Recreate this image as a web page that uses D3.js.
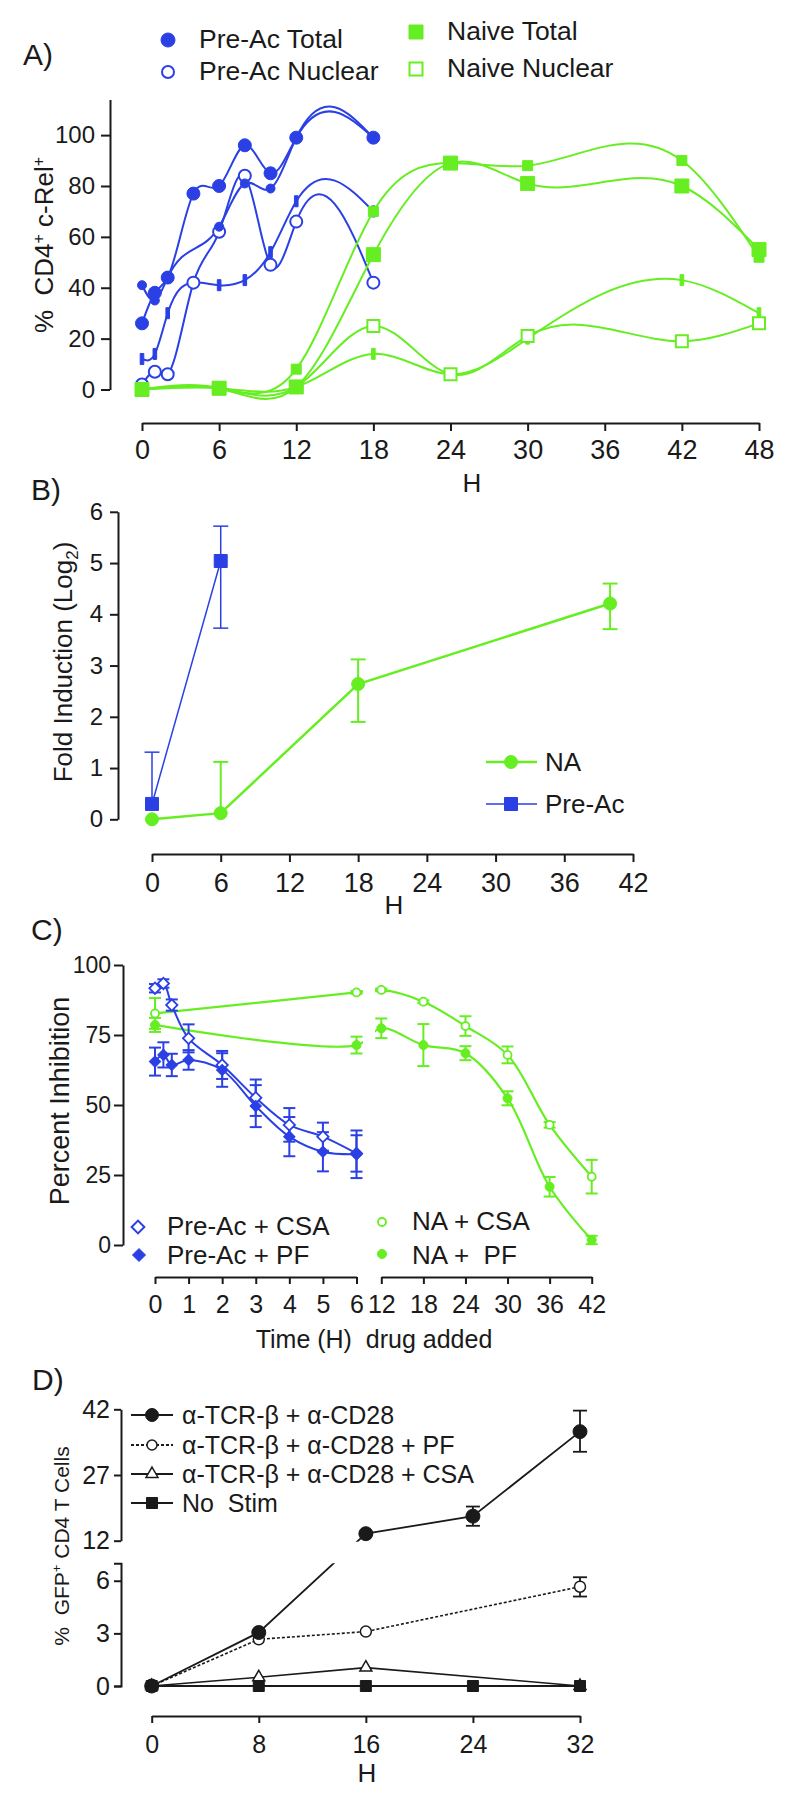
<!DOCTYPE html>
<html><head><meta charset="utf-8">
<script src="https://cdn.jsdelivr.net/npm/d3@7"></script>
<style>
body{margin:0;background:#fff}
svg text{font-family:"Liberation Sans",Arial,Helvetica,sans-serif;fill:#1a1a1a}
</style></head><body>
<svg id="chart" width="800" height="1800" xmlns="http://www.w3.org/2000/svg"></svg>
<script>
// ---------------- DATA ----------------
// Panel A : % CD4+ c-Rel+ vs hours
const aHoursPre = [0,1,2,4,6,8,10,12,18];
const aHoursPre2 = [0,1,2,6,8,10,12,18];
const aPreTotal = [26,38,44,77,80,96,85,99,99];
const aPreTotal2 = [41,35,44,64,81,79,99,99];
const aPreNuclear = [2,7,6,42,62,84,49,66,42];
const aPreNuclear2 = [12,14,30,42,41,43,54,74,70];
const aHoursNaive = [0,6,12,18,24,30,42,48];
const aNaiveTotal = [0,0.5,1,53,89,81,80,55];
const aNaiveTotal2 = [0,0.5,8,70,89,88,90,52];
const aNaiveNuclear = [0,0.5,1,25,6,21,19,26];
const aNaiveNuclear2 = [0,0.5,1,14,6,20,43,30];
const aXTicks = [0,6,12,18,24,30,36,42,48];
const aYTicks = [0,20,40,60,80,100];
const aLegend = ["Pre-Ac Total","Pre-Ac Nuclear","Naive Total","Naive Nuclear"];

// Panel B : Fold induction (log2)
const bHoursNA = [0,6,18,40];
const bNA = [0,0.12,2.64,4.21];
const bNAHi = [null,1.12,3.12,4.6];
const bNALo = [null,null,1.9,3.71];
const bHoursPre = [0,6];
const bPre = [0.3,5.04];
const bPreHi = [1.31,5.72];
const bPreLo = [null,3.73];
const bXTicks = [0,6,12,18,24,30,36,42];
const bYTicks = [0,1,2,3,4,5,6];
const bLegend = ["NA","Pre-Ac"];

// Panel C : Percent inhibition vs time drug added
const cHoursPre = [0,0.25,0.5,1,2,3,4,5,6];
const cPreCSA = [91.7,93.4,85.7,73.8,64.3,52.6,42.9,38.7,32.7];
const cPreCSAErr = [1.5,1.5,2,5,5,6.5,6,5,6.5];
const cPrePF = [65.5,67.9,64.3,66.1,62.5,49.6,38.7,33.3,32.4];
const cPrePFErr = [5,4.5,4,3.5,6,7.5,7,7,8.5];
const cHoursNA = [0,6,12,18,24,30,36,42];
const cNACSA = [82.7,90.2,91.1,86.9,78.2,67.9,42.9,24.4];
const cNACSAErr = [5.5,0.5,0.5,0.5,3.5,3,1,6];
const cNAPF = [78.6,71.4,77.4,71.4,68.5,52.4,20.8,1.8];
const cNAPFErr = [2.5,3,3.5,7.5,2.5,2.5,3.5,1.5];
const cXTicksL = [0,1,2,3,4,5,6];
const cXTicksR = [12,18,24,30,36,42];
const cYTicks = [0,25,50,75,100];
const cLegend = ["Pre-Ac + CSA","Pre-Ac + PF","NA + CSA","NA +  PF"];

// Panel D : % GFP+ CD4 T cells
const dHours = [0,8,16,24,32];
const dTCR = [0,3.05,13.6,17.6,36.9];
const dTCRLo = [null,null,null,15.4,32.3];
const dTCRHi = [null,null,null,19.8,41.7];
const dHoursPF = [0,8,16,32];
const dPF = [0,2.66,3.1,5.66];
const dPFLo = [null,null,null,5.1];
const dPFHi = [null,null,null,6.2];
const dHoursCSA = [0,8,16,32];
const dCSA = [0,0.5,1.05,0];
const dNoStim = [0,0,0,0,0];
const dXTicks = [0,8,16,24,32];
const dYTicksUp = [12,27,42];
const dYTicksLow = [0,3,6];
const dLegend = ["\u03b1-TCR-\u03b2 + \u03b1-CD28","\u03b1-TCR-\u03b2 + \u03b1-CD28 + PF","\u03b1-TCR-\u03b2 + \u03b1-CD28 + CSA","No  Stim"];

// ---------------- HELPERS ----------------
const BLUE = "#2b40e4", GREEN = "#66ee22", INK = "#1a1a1a";
const FONT = '"Liberation Sans", Arial, Helvetica, sans-serif';
const svg = d3.select("#chart");
const defs = svg.append("defs");
const pts = (hs, vs) => hs.map((h,i)=>({h, v: vs[i], i}));
const fmt = d3.format("d");

// natural cubic spline y(x) as a d3 curve (graph-software style spline)
function curveSplineX(context){
  let xs = [], ys = [];
  return {
    areaStart(){}, areaEnd(){},
    lineStart(){ xs = []; ys = []; },
    point(x, y){ xs.push(+x); ys.push(+y); },
    lineEnd(){
      const n = xs.length;
      if(!n) return;
      context.moveTo(xs[0], ys[0]);
      if(n === 1) return;
      if(n === 2){ context.lineTo(xs[1], ys[1]); return; }
      const h = [];
      for(let i=0;i<n-1;i++) h.push(xs[i+1]-xs[i]);
      const a=[], b=[], c=[], d=[];
      for(let i=1;i<n-1;i++){
        a.push(h[i-1]); b.push(2*(h[i-1]+h[i])); c.push(h[i]);
        d.push(6*((ys[i+1]-ys[i])/h[i] - (ys[i]-ys[i-1])/h[i-1]));
      }
      const m = b.length;
      for(let i=1;i<m;i++){ const w=a[i]/b[i-1]; b[i]-=w*c[i-1]; d[i]-=w*d[i-1]; }
      const sol = new Array(m);
      sol[m-1] = d[m-1]/b[m-1];
      for(let i=m-2;i>=0;i--) sol[i] = (d[i]-c[i]*sol[i+1])/b[i];
      const M = new Array(n).fill(0);
      for(let i=1;i<n-1;i++) M[i] = sol[i-1];
      for(let i=0;i<n-1;i++){
        const hi = h[i], s = (ys[i+1]-ys[i])/hi;
        const m0 = s - hi*(2*M[i]+M[i+1])/6;
        const m1 = s + hi*(M[i]+2*M[i+1])/6;
        context.bezierCurveTo(xs[i]+hi/3, ys[i]+m0*hi/3, xs[i+1]-hi/3, ys[i+1]-m1*hi/3, xs[i+1], ys[i+1]);
      }
    }
  };
}

function styleAxis(g, fs){
  g.attr("font-family", FONT).attr("font-size", fs).attr("color", INK);
  g.selectAll("path.domain").attr("stroke-width", 2);
  g.selectAll(".tick line").attr("stroke-width", 2);
}
function label(x, y, str, fs, anchor="start"){
  return svg.append("text").attr("x",x).attr("y",y).attr("font-size",fs)
    .attr("text-anchor",anchor).style("white-space","pre").text(str);
}
function shapePath(shape, size){
  if(shape==="circle") return d3.symbol().type(d3.symbolCircle).size(Math.PI*size*size/4)();
  if(shape==="square" || shape==="diamond") return d3.symbol().type(d3.symbolSquare).size(size*size)();
  if(shape==="triangle") return d3.symbol().type(d3.symbolTriangle).size(Math.sqrt(3)/4*size*size)();
  if(shape==="tick") return "M-1.8,-5.5h3.6v11h-3.6z";
}
function markers(g, data, xf, yf, shape, size, color, filled, sw=2){
  g.selectAll(null).data(data).join("path")
    .attr("d", shapePath(shape,size))
    .attr("transform", d=>`translate(${xf(d.h)},${yf(d.v)})${shape==="diamond"?" rotate(45)":""}`)
    .attr("fill", filled?color:"#fff").attr("stroke", color).attr("stroke-width", filled?1:sw);
}
function marker1(x, y, shape, size, color, filled, sw=2){
  svg.append("path").attr("d", shapePath(shape,size))
    .attr("transform", `translate(${x},${y})${shape==="diamond"?" rotate(45)":""}`)
    .attr("fill", filled?color:"#fff").attr("stroke", color).attr("stroke-width", filled?1:sw);
}
function errBars(g, data, xf, yf, lo, hi, color, cap=14, sw=2){
  data.forEach((d,i)=>{
    const x = xf(d.h);
    [hi[i], lo[i]].forEach(e=>{
      if(e==null) return;
      g.append("line").attr("x1",x).attr("x2",x).attr("y1",yf(d.v)).attr("y2",yf(e)).attr("stroke",color).attr("stroke-width",sw);
      g.append("line").attr("x1",x-cap/2).attr("x2",x+cap/2).attr("y1",yf(e)).attr("y2",yf(e)).attr("stroke",color).attr("stroke-width",sw);
    });
  });
}
function rotLabel(cx, cy, fs, build){
  const t = svg.append("text").attr("transform",`translate(${cx},${cy}) rotate(-90)`)
    .attr("text-anchor","middle").attr("dy","0.35em").attr("font-size",fs).style("white-space","pre");
  build(t);
  return t;
}

// ================= PANEL A =================
const xA = d3.scaleLinear().domain([0,48]).range([142,759]);
const yA = d3.scaleLinear().domain([0,114]).range([389.5,99.5]);
styleAxis(svg.append("g").attr("transform","translate(110,0)")
  .call(d3.axisLeft(yA).tickValues(aYTicks).tickFormat(fmt).tickSize(9).tickPadding(6).tickSizeOuter(0)), 24);
styleAxis(svg.append("g").attr("transform","translate(0,423)")
  .call(d3.axisBottom(xA).tickValues(aXTicks).tickFormat(fmt).tickSize(8).tickPadding(9).tickSizeOuter(0)), 27);
label(23,65,"A)",30);
label(472,492,"H",26,"middle");
rotLabel(44,245,26,t=>{
  t.append("tspan").text("%  CD4");
  t.append("tspan").attr("dy",-9).attr("font-size",16).text("+");
  t.append("tspan").attr("dy",9).text(" c-Rel");
  t.append("tspan").attr("dy",-9).attr("font-size",16).text("+");
});
const lineA = d3.line().x(d=>xA(d.h)).y(d=>yA(d.v)).curve(curveSplineX);
const gA = svg.append("g");
[[aHoursPre,aPreTotal],[aHoursPre2,aPreTotal2],[aHoursPre,aPreNuclear],[aHoursPre,aPreNuclear2]]
  .forEach(([h,v])=>gA.append("path").attr("d",lineA(pts(h,v))).attr("fill","none").attr("stroke",BLUE).attr("stroke-width",2));
markers(gA, pts(aHoursPre,aPreNuclear2), xA, yA, "tick", 0, BLUE, true);
markers(gA, pts(aHoursPre,aPreNuclear), xA, yA, "circle", 12, BLUE, false);
markers(gA, pts(aHoursPre2,aPreTotal2), xA, yA, "circle", 9, BLUE, true);
markers(gA, pts(aHoursPre,aPreTotal), xA, yA, "circle", 13, BLUE, true);
[[aHoursNaive,aNaiveTotal],[aHoursNaive,aNaiveTotal2],[aHoursNaive,aNaiveNuclear],[aHoursNaive,aNaiveNuclear2]]
  .forEach(([h,v])=>gA.append("path").attr("d",lineA(pts(h,v))).attr("fill","none").attr("stroke",GREEN).attr("stroke-width",2));
markers(gA, pts(aHoursNaive,aNaiveNuclear2), xA, yA, "tick", 0, GREEN, true);
markers(gA, pts(aHoursNaive,aNaiveNuclear), xA, yA, "square", 12, GREEN, false);
markers(gA, pts(aHoursNaive,aNaiveTotal2), xA, yA, "square", 10, GREEN, true);
markers(gA, pts(aHoursNaive,aNaiveTotal), xA, yA, "square", 14, GREEN, true);
// legend A
marker1(168,40,"circle",14,BLUE,true);
marker1(168,72,"circle",12,BLUE,false);
marker1(416,32,"square",14,GREEN,true);
marker1(416,69,"square",13,GREEN,false);
label(199,48,aLegend[0],26.5);
label(199,80,aLegend[1],26.5);
label(447,40,aLegend[2],26.5);
label(447,77,aLegend[3],26.5);

// ================= PANEL B =================
const xB = d3.scaleLinear().domain([0,42]).range([152,633]);
const yB = d3.scaleLinear().domain([0,6]).range([819.3,511.8]);
styleAxis(svg.append("g").attr("transform","translate(118,0)")
  .call(d3.axisLeft(yB).tickValues(bYTicks).tickFormat(fmt).tickSize(8).tickPadding(7).tickSizeOuter(0)), 24);
styleAxis(svg.append("g").attr("transform","translate(0,854)")
  .call(d3.axisBottom(xB).tickValues(bXTicks).tickFormat(fmt).tickSize(8).tickPadding(11).tickSizeOuter(0)), 27);
label(31,500,"B)",30);
label(394,914,"H",26,"middle");
rotLabel(63,662,26,t=>{
  t.append("tspan").text("Fold Induction (Log");
  t.append("tspan").attr("dy",6).attr("font-size",17).text("2");
  t.append("tspan").attr("dy",-6).text(")");
});
const lineB = d3.line().x(d=>xB(d.h)).y(d=>yB(d.v));
const gB = svg.append("g");
const bNApts = pts(bHoursNA,bNA), bPrepts = pts(bHoursPre,bPre);
errBars(gB, bNApts, xB, yB, bNALo, bNAHi, GREEN, 15, 2);
gB.append("path").attr("d",lineB(bNApts)).attr("fill","none").attr("stroke",GREEN).attr("stroke-width",2.5);
markers(gB, bNApts, xB, yB, "circle", 13, GREEN, true);
errBars(gB, bPrepts, xB, yB, bPreLo, bPreHi, BLUE, 15, 1.5);
gB.append("path").attr("d",lineB(bPrepts)).attr("fill","none").attr("stroke",BLUE).attr("stroke-width",1.5);
markers(gB, bPrepts, xB, yB, "square", 13, BLUE, true);
// legend B
svg.append("line").attr("x1",486).attr("x2",537).attr("y1",762).attr("y2",762).attr("stroke",GREEN).attr("stroke-width",2.5);
marker1(511,762,"circle",13,GREEN,true);
svg.append("line").attr("x1",486).attr("x2",537).attr("y1",804).attr("y2",804).attr("stroke",BLUE).attr("stroke-width",1.5);
marker1(511,804,"square",13,BLUE,true);
label(545,771,bLegend[0],26);
label(545,813,bLegend[1],26);

// ================= PANEL C =================
const xCL = d3.scaleLinear().domain([0,6]).range([155,356.5]);
const xCR = d3.scaleLinear().domain([12,42]).range([381.3,591.7]);
const xC = h => h<=6 ? xCL(h) : xCR(h);
const yC = d3.scaleLinear().domain([0,100]).range([1245,965]);
styleAxis(svg.append("g").attr("transform","translate(123,0)")
  .call(d3.axisLeft(yC).tickValues(cYTicks).tickFormat(fmt).tickSize(9).tickPadding(3).tickSizeOuter(0)), 23);
styleAxis(svg.append("g").attr("transform","translate(0,1277)")
  .call(d3.axisBottom(xCL).tickValues(cXTicksL).tickFormat(fmt).tickSize(7).tickPadding(11).tickSizeOuter(0)), 25);
styleAxis(svg.append("g").attr("transform","translate(0,1277)")
  .call(d3.axisBottom(xCR).tickValues(cXTicksR).tickFormat(fmt).tickSize(7).tickPadding(11).tickSizeOuter(0)), 25);
label(31,940,"C)",30);
label(374,1348,"Time (H)  drug added",25,"middle");
rotLabel(60,1101,27,t=>t.text("Percent Inhibition"));
const clipC = defs.append("clipPath").attr("id","clipC");
clipC.append("rect").attr("x",100).attr("y",900).attr("width",263).attr("height",400);
clipC.append("rect").attr("x",375).attr("y",900).attr("width",400).attr("height",400);
const lineC = d3.line().x(d=>xC(d.h)).y(d=>yC(d.v)).curve(d3.curveCatmullRom.alpha(0.5));
const gC = svg.append("g");
const lo = (v,e)=>v.map((x,i)=>x-e[i]), hi = (v,e)=>v.map((x,i)=>x+e[i]);
const cNACSApts = pts(cHoursNA,cNACSA), cNAPFpts = pts(cHoursNA,cNAPF);
const cPreCSApts = pts(cHoursPre,cPreCSA), cPrePFpts = pts(cHoursPre,cPrePF);
errBars(gC, cNACSApts, xC, yC, lo(cNACSA,cNACSAErr), hi(cNACSA,cNACSAErr), GREEN, 12, 2);
errBars(gC, cNAPFpts, xC, yC, lo(cNAPF,cNAPFErr), hi(cNAPF,cNAPFErr), GREEN, 12, 2);
gC.append("path").attr("d",lineC(cNACSApts)).attr("clip-path","url(#clipC)").attr("fill","none").attr("stroke",GREEN).attr("stroke-width",2.2);
gC.append("path").attr("d",lineC(cNAPFpts)).attr("clip-path","url(#clipC)").attr("fill","none").attr("stroke",GREEN).attr("stroke-width",2.2);
markers(gC, cNACSApts, xC, yC, "circle", 8, GREEN, false, 1.8);
markers(gC, cNAPFpts, xC, yC, "circle", 9, GREEN, true);
errBars(gC, cPreCSApts, xC, yC, lo(cPreCSA,cPreCSAErr), hi(cPreCSA,cPreCSAErr), BLUE, 12, 2);
errBars(gC, cPrePFpts, xC, yC, lo(cPrePF,cPrePFErr), hi(cPrePF,cPrePFErr), BLUE, 12, 2);
gC.append("path").attr("d",lineC(cPreCSApts)).attr("fill","none").attr("stroke",BLUE).attr("stroke-width",2);
gC.append("path").attr("d",lineC(cPrePFpts)).attr("fill","none").attr("stroke",BLUE).attr("stroke-width",2);
markers(gC, cPreCSApts, xC, yC, "diamond", 8, BLUE, false, 1.8);
markers(gC, cPrePFpts, xC, yC, "diamond", 8, BLUE, true);
// legend C
marker1(138,1227,"diamond",9,BLUE,false,2);
marker1(139,1255,"diamond",9,BLUE,true);
marker1(382,1222,"circle",8,GREEN,false,1.8);
marker1(382,1254,"circle",9,GREEN,true);
label(167,1235,cLegend[0],26);
label(167,1264,cLegend[1],26);
label(412,1230,cLegend[2],26);
label(412,1264,cLegend[3],26);

// ================= PANEL D =================
const xD = d3.scaleLinear().domain([0,32]).range([151.7,580]);
const yDUp = d3.scaleLinear().domain([12,42]).range([1540.7,1409.3]);
const yDLow = d3.scaleLinear().domain([0,7]).range([1686,1563.2]);
const yD = v => v<=7 ? yDLow(v) : yDUp(v);
styleAxis(svg.append("g").attr("transform","translate(121,0)")
  .call(d3.axisLeft(yDUp).tickValues(dYTicksUp).tickFormat(fmt).tickSize(7).tickPadding(4).tickSizeOuter(0)), 25);
styleAxis(svg.append("g").attr("transform","translate(121,0)")
  .call(d3.axisLeft(yDLow).tickValues(dYTicksLow).tickFormat(fmt).tickSize(7).tickPadding(4).tickSizeOuter(7)), 25);
styleAxis(svg.append("g").attr("transform","translate(0,1716)")
  .call(d3.axisBottom(xD).tickValues(dXTicks).tickFormat(fmt).tickSize(7).tickPadding(12).tickSizeOuter(0)), 25);
label(32,1390,"D)",30);
label(367,1782,"H",26,"middle");
rotLabel(62,1546,21,t=>{
  t.append("tspan").text("%  GFP");
  t.append("tspan").attr("dy",-8).attr("font-size",13).text("+");
  t.append("tspan").attr("dy",8).text(" CD4 T Cells");
});
const clipD = defs.append("clipPath").attr("id","clipD");
clipD.append("rect").attr("x",120).attr("y",1380).attr("width",500).attr("height",yDUp(12)-1380+1);
clipD.append("rect").attr("x",120).attr("y",yDLow(7)).attr("width",500).attr("height",1700-yDLow(7));
const lineD = d3.line().x(d=>xD(d.h)).y(d=>yD(d.v));
const gD = svg.append("g");
const dTCRpts = pts(dHours,dTCR), dPFpts = pts(dHoursPF,dPF), dCSApts = pts(dHoursCSA,dCSA), dNSpts = pts(dHours,dNoStim);
errBars(gD, dTCRpts, xD, yD, dTCRLo, dTCRHi, INK, 14, 1.8);
errBars(gD, dPFpts, xD, yD, dPFLo, dPFHi, INK, 14, 1.8);
gD.append("path").attr("d",lineD(dNSpts)).attr("clip-path","url(#clipD)").attr("fill","none").attr("stroke",INK).attr("stroke-width",2);
gD.append("path").attr("d",lineD(dCSApts)).attr("clip-path","url(#clipD)").attr("fill","none").attr("stroke",INK).attr("stroke-width",1.6);
gD.append("path").attr("d",lineD(dPFpts)).attr("clip-path","url(#clipD)").attr("fill","none").attr("stroke",INK).attr("stroke-width",1.6).attr("stroke-dasharray","3,2");
gD.append("path").attr("d",lineD(dTCRpts)).attr("clip-path","url(#clipD)").attr("fill","none").attr("stroke",INK).attr("stroke-width",1.8);
markers(gD, dCSApts, xD, yD, "triangle", 12, INK, false, 1.5);
markers(gD, dPFpts, xD, yD, "circle", 11, INK, false, 1.5);
markers(gD, dNSpts, xD, yD, "square", 11, INK, true);
markers(gD, dTCRpts, xD, yD, "circle", 14, INK, true);
// legend D
const dRows = [1415,1445,1474,1503];
const dShapes = [["circle",13,true],["circle",10,false],["triangle",12,false],["square",11,true]];
dRows.forEach((y,i)=>{
  svg.append("line").attr("x1",131).attr("x2",173).attr("y1",y).attr("y2",y).attr("stroke",INK)
    .attr("stroke-width",1.8).attr("stroke-dasharray", i===1?"3,2":null);
  marker1(152,y,dShapes[i][0],dShapes[i][1],INK,dShapes[i][2],1.5);
  label(182,y,dLegend[i],25).attr("dy","0.36em");
});
</script></body></html>
